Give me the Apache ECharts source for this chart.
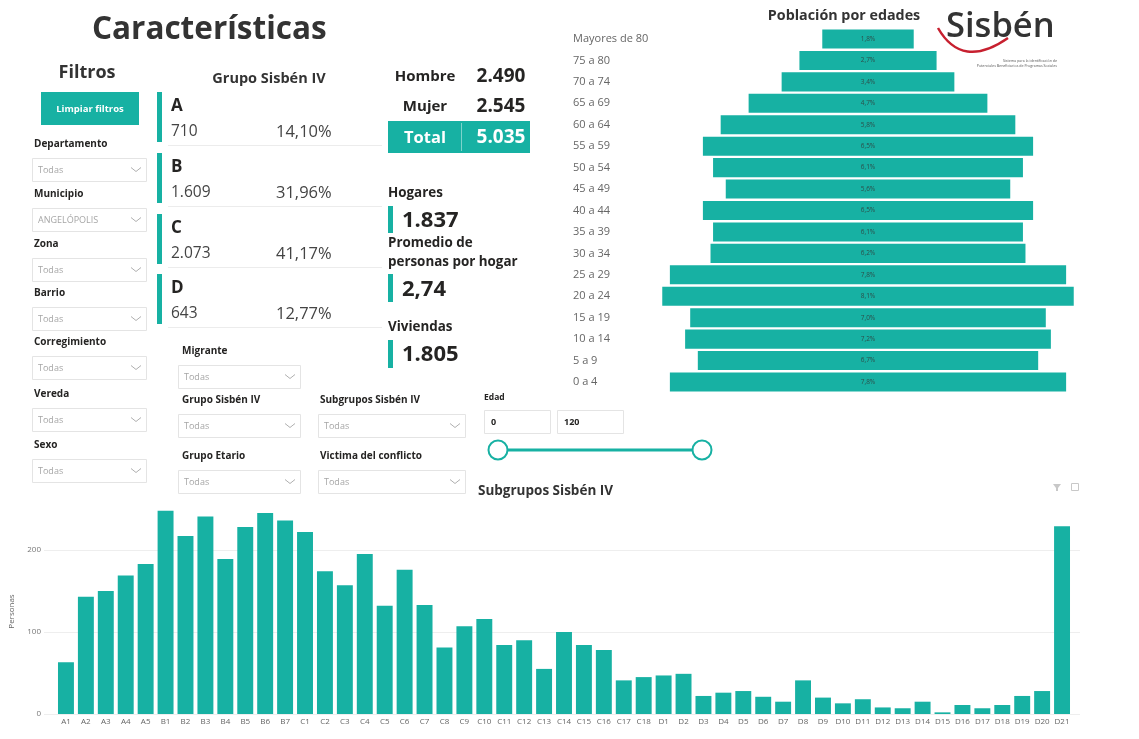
<!DOCTYPE html>
<html>
<head>
<meta charset="utf-8">
<script src="https://cdn.jsdelivr.net/npm/echarts@6/dist/echarts.min.js"></script>
<style>
html, body { margin: 0; padding: 0; background: #fff; }
#main { width: 1139px; height: 739px; }
</style>
</head>
<body>
<div id="main"></div>
<script>
// ---- data ----
var subgrupos = ['A1','A2','A3','A4','A5','B1','B2','B3','B4','B5','B6','B7',
    'C1','C2','C3','C4','C5','C6','C7','C8','C9','C10','C11','C12','C13','C14','C15','C16','C17','C18',
    'D1','D2','D3','D4','D5','D6','D7','D8','D9','D10','D11','D12','D13','D14','D15','D16','D17','D18','D19','D20','D21'];
var personas = [63, 143, 150, 169, 183, 248, 217, 241, 189, 228, 245, 236,
    222, 174, 157, 195, 132, 176, 133, 81, 107, 116, 84, 90, 55, 100, 84, 78, 41, 45,
    47, 49, 22, 26, 28, 21, 15, 41, 20, 13, 18, 8, 7, 15, 2, 11, 7, 11, 22, 28, 229];
var personasTicks = [0, 100, 200];

var edades = ['Mayores de 80','75 a 80','70 a 74','65 a 69','60 a 64','55 a 59','50 a 54','45 a 49',
    '40 a 44','35 a 39','30 a 34','25 a 29','20 a 24','15 a 19','10 a 14','5 a 9','0 a 4'];
var pctEdad = [1.8, 2.7, 3.4, 4.7, 5.8, 6.5, 6.1, 5.6, 6.5, 6.1, 6.2, 7.8, 8.1, 7.0, 7.2, 6.7, 7.8];

var grupos = ['A', 'B', 'C', 'D'];
var grupoPersonas = ['710', '1.609', '2.073', '643'];
var grupoPct = ['14,10%', '31,96%', '41,17%', '12,77%'];

var sexoLabels = ['Hombre', 'Mujer', 'Total'];
var sexoValores = ['2.490', '2.545', '5.035'];
var hogares = '1.837', promedio = '2,74', viviendas = '1.805';

var filtrosIzq = ['Departamento','Municipio','Zona','Barrio','Corregimiento','Vereda','Sexo'];
var filtrosIzqValor = ['Todas','ANGELÓPOLIS','Todas','Todas','Todas','Todas','Todas'];
var edadRango = ['0', '120'];

// ---- helpers ----
var TEAL = '#17b1a3';
var FONT = '"Open Sans", "Noto Sans", sans-serif';
var G = [];

function txt(x, y, s, size, o) {
    o = o || {};
    G.push({
        type: 'text', x: x, y: y, z: 10,
        style: {
            text: s, fontSize: size, fontFamily: FONT,
            fontWeight: o.bold ? 'bold' : (o.weight || 'normal'),
            fill: o.fill || '#252423',
            align: o.align || 'left', verticalAlign: 'middle'
        }
    });
}
function rect(x, y, w, h, fill, stroke) {
    G.push({ type: 'rect', shape: { x: x, y: y, width: w, height: h },
        style: { fill: fill, stroke: stroke || null, lineWidth: 1 } });
}
function line(x1, y1, x2, y2, color, lw) {
    G.push({ type: 'line', shape: { x1: x1, y1: y1, x2: x2, y2: y2 },
        style: { stroke: color, lineWidth: lw || 1 } });
}
function dropdown(x, y, w, h, value) {
    rect(x + 0.5, y + 0.5, w, h, '#fff', '#e4e4e4');
    txt(x + 6, y + h / 2 + 1, value, 9, { fill: '#a6a6a6' });
    G.push({ type: 'polyline',
        shape: { points: [[x + w - 15, y + h / 2 - 2], [x + w - 10, y + h / 2 + 2], [x + w - 5, y + h / 2 - 2]] },
        style: { stroke: '#b0b0b0', fill: null, lineWidth: 1 } });
}

// ---- header / filters ----
txt(92, 30, 'Características', 31.5, { bold: true, fill: '#333' });
txt(87, 73, 'Filtros', 18, { bold: true, fill: '#333', align: 'center' });
rect(41, 92, 98, 33, TEAL);
txt(90, 109, 'Limpiar filtros', 9.5, { bold: true, fill: '#fff', align: 'center' });

filtrosIzq.forEach(function (f, i) {
    var y = [144, 194, 244, 293, 342, 394, 445][i];
    txt(34, y, f, 10, { bold: true });
    dropdown(32, y + 14, 114, 23, filtrosIzqValor[i]);
});

// Grupo Sisbén IV cards
txt(269, 79, 'Grupo Sisbén IV', 14.5, { bold: true, fill: '#333', align: 'center' });
grupos.forEach(function (g, i) {
    var top = [92, 153, 214, 274][i];
    rect(157, top, 5, 50, TEAL);
    txt(171, top + 14, g, 17, { bold: true });
    txt(171, top + 40, grupoPersonas[i], 15.5, { fill: '#444' });
    txt(276, top + 40, grupoPct[i], 16.5, { fill: '#444' });
    line(168, top + 53.5, 382, top + 53.5, '#ececec');
});

// Hombre / Mujer / Total
txt(425, 77, sexoLabels[0], 15, { bold: true, align: 'center' });
txt(501, 77, sexoValores[0], 19, { bold: true, align: 'center' });
txt(425, 107, sexoLabels[1], 15, { bold: true, align: 'center' });
txt(501, 107, sexoValores[1], 19, { bold: true, align: 'center' });
rect(388, 121, 142, 32, TEAL);
line(461.5, 123, 461.5, 151, '#7fd3cb');
txt(425, 138, sexoLabels[2], 16.5, { bold: true, fill: '#fff', align: 'center' });
txt(501, 138, sexoValores[2], 19, { bold: true, fill: '#fff', align: 'center' });

txt(388, 193, 'Hogares', 13.4, { bold: true });
rect(388, 206, 5, 27, TEAL);
txt(402, 221, hogares, 22, { bold: true });
txt(388, 243, 'Promedio de', 13.4, { bold: true });
txt(388, 262, 'personas por hogar', 13.4, { bold: true });
rect(388, 274, 5, 28, TEAL);
txt(402, 290, promedio, 22, { bold: true });
txt(388, 327, 'Viviendas', 13.4, { bold: true });
rect(388, 340, 5, 28, TEAL);
txt(402, 355, viviendas, 22, { bold: true });

// middle filters
txt(182, 351, 'Migrante', 10, { bold: true });
dropdown(178, 365, 122, 23, 'Todas');
txt(182, 400, 'Grupo Sisbén IV', 10, { bold: true });
dropdown(178, 414, 122, 23, 'Todas');
txt(320, 400, 'Subgrupos Sisbén IV', 10, { bold: true });
dropdown(318, 414, 147, 23, 'Todas');
txt(182, 456, 'Grupo Etario', 10, { bold: true });
dropdown(178, 470, 122, 23, 'Todas');
txt(320, 456, 'Victima del conflicto', 10, { bold: true });
dropdown(318, 470, 147, 23, 'Todas');

// Edad slider
txt(484, 398, 'Edad', 8.5, { bold: true });
rect(484.5, 410.5, 66, 23, '#fff', '#e4e4e4');
txt(491, 422, edadRango[0], 9, { bold: true });
rect(557.5, 410.5, 66, 23, '#fff', '#e4e4e4');
txt(564, 422, edadRango[1], 9, { bold: true });
line(507, 450, 692, 450, TEAL, 3);
G.push({ type: 'circle', shape: { cx: 498, cy: 450, r: 9.5 }, style: { fill: '#fff', stroke: TEAL, lineWidth: 2 } });
G.push({ type: 'circle', shape: { cx: 702, cy: 450, r: 9.5 }, style: { fill: '#fff', stroke: TEAL, lineWidth: 2 } });

// pyramid + logo
txt(844, 16, 'Población por edades', 14.3, { bold: true, fill: '#333', align: 'center' });
G.push({ type: 'bezierCurve',
    shape: { x1: 938, y1: 28, cpx1: 962, cpy1: 70, x2: 1008, y2: 38 },
    style: { stroke: '#c7202f', lineWidth: 2.5, fill: null } });
txt(946, 27, 'Sisbén', 34.5, { fill: '#333', weight: 600 });
txt(1057, 61, 'Sistema para la identificación de', 3.6, { fill: '#555', align: 'right' });
txt(1057, 66, 'Potenciales Beneficiarios de Programas Sociales', 3.6, { fill: '#555', align: 'right' });

// bar chart header
txt(478, 491, 'Subgrupos Sisbén IV', 13.5, { bold: true, fill: '#333' });
G.push({ type: 'polygon', shape: { points: [[1053, 484], [1061, 484], [1058, 488], [1058, 491], [1056, 491], [1056, 488]] },
    style: { fill: '#c8c8c8' } });
rect(1071.5, 483.5, 7, 7, null, '#c8c8c8');

// ---- chart ----
var myChart = echarts.init(document.getElementById('main'));

var option = {
    animation: false,
    textStyle: { fontFamily: FONT },
    graphic: { elements: G },
    grid: [
        { left: 614, right: 17, top: 28.3, bottom: 346.3 },
        { left: 56, right: 67, top: 509, bottom: 25 },
        { left: 44, right: 59, top: 509, bottom: 25 }
    ],
    xAxis: [
        { gridIndex: 0, type: 'value', min: -5, max: 5, show: false },
        {
            gridIndex: 1, type: 'category', data: subgrupos,
            axisLine: { show: false }, axisTick: { show: false },
            axisLabel: { interval: 0, fontSize: 8, color: '#666', margin: 4 }
        },
        { gridIndex: 2, type: 'value', show: false }
    ],
    yAxis: [
        {
            gridIndex: 0, type: 'category', data: edades, inverse: true,
            axisLine: { show: false }, axisTick: { show: false },
            axisLabel: { align: 'left', margin: 41, fontSize: 11, color: '#666' }
        },
        { gridIndex: 1, type: 'value', min: 0, max: 250, show: false },
        {
            gridIndex: 2, type: 'value', min: 0, max: 250, interval: 100,
            name: 'Personas', nameLocation: 'middle', nameGap: 28,
            nameTextStyle: { fontSize: 8, color: '#666' },
            axisLine: { show: false }, axisTick: { show: false },
            axisLabel: {
                fontSize: 8, color: '#777', margin: 3,
                customValues: personasTicks
            },
            splitLine: { show: true, showMaxLine: false, lineStyle: { color: '#eeeeee' } }
        }
    ],
    series: [
        {
            type: 'bar', xAxisIndex: 0, yAxisIndex: 0,
            data: pctEdad.map(function (v) { return -v / 2; }),
            barCategoryGap: '11%', barGap: '-100%',
            itemStyle: { color: TEAL }, silent: true
        },
        {
            type: 'bar', xAxisIndex: 0, yAxisIndex: 0,
            data: pctEdad.map(function (v) { return v / 2; }),
            barCategoryGap: '11%', barGap: '-100%',
            itemStyle: { color: TEAL },
            label: {
                show: true, position: 'insideLeft', distance: 0, align: 'center',
                fontSize: 6.5, color: '#2d4f4b',
                formatter: function (p) { return pctEdad[p.dataIndex].toFixed(1).replace('.', ',') + '%'; }
            }
        },
        {
            type: 'bar', xAxisIndex: 1, yAxisIndex: 1,
            data: personas, barCategoryGap: '20%',
            itemStyle: { color: TEAL }
        }
    ]
};

if (option && typeof option === 'object') {
    myChart.setOption(option);
}

window.addEventListener('resize', myChart.resize);
</script>
</body>
</html>
